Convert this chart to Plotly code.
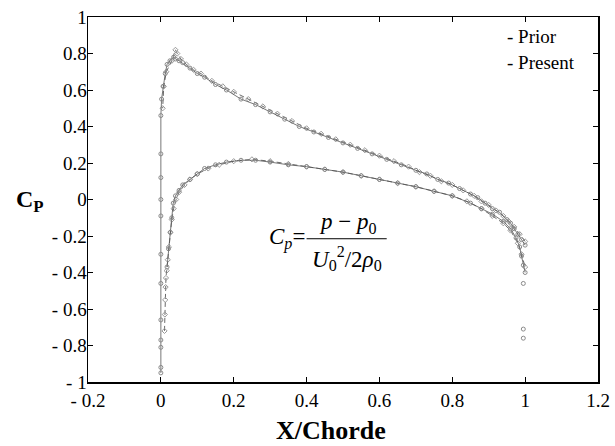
import plotly.graph_objects as go

# ---- data ----
# Present: upper surface (trailing edge -> leading edge), then down the leading edge
present_upper_x = [1.0, 0.99, 0.98, 0.97, 0.96, 0.95, 0.93, 0.91, 0.89, 0.87, 0.85, 0.82, 0.79, 0.76,
                   0.73, 0.70, 0.66, 0.62, 0.58, 0.54, 0.50, 0.46, 0.42, 0.38, 0.34, 0.30, 0.26, 0.22,
                   0.18, 0.15, 0.12, 0.10, 0.08, 0.06, 0.05, 0.04, 0.035,
                   0.025, 0.017, 0.012, 0.006, 0.002, 0.0, 0.0, 0.0, 0.0, 0.0, 0.0, 0.0, 0.0, 0.0,
                   0.0, 0.0, 0.0]
present_upper_cp = [-0.25, -0.22, -0.19, -0.16, -0.13, -0.11, -0.07, -0.05, -0.02, 0.01, 0.03, 0.06, 0.09, 0.11,
                    0.14, 0.16, 0.19, 0.22, 0.25, 0.28, 0.31, 0.34, 0.37, 0.40, 0.44, 0.48, 0.52, 0.55,
                    0.60, 0.63, 0.67, 0.69, 0.72, 0.75, 0.76, 0.77, 0.78,
                    0.76, 0.74, 0.69, 0.62, 0.55, 0.46, 0.25, 0.12, 0.0, -0.09, -0.30, -0.46, -0.66, -0.77,
                    -0.81, -0.92, -0.95]
# Present: lower surface (leading edge -> trailing edge)
present_lower_x = [0.017, 0.021, 0.026, 0.03, 0.034, 0.04, 0.05, 0.06, 0.08, 0.10, 0.12, 0.15, 0.18, 0.22,
                   0.26, 0.30, 0.35, 0.40, 0.45, 0.50, 0.55, 0.60, 0.65, 0.70, 0.75, 0.80, 0.85, 0.88,
                   0.91, 0.94, 0.96, 0.975, 0.985, 0.99, 0.995, 1.0]
present_lower_cp = [-0.37, -0.27, -0.18, -0.10, -0.02, 0.02, 0.05, 0.08, 0.11, 0.14, 0.17, 0.19, 0.205, 0.215,
                    0.215, 0.205, 0.19, 0.18, 0.165, 0.15, 0.13, 0.11, 0.09, 0.07, 0.045, 0.02, -0.02, -0.05,
                    -0.08, -0.12, -0.16, -0.21, -0.26, -0.31, -0.36, -0.40]
# Present: isolated trailing-edge points
present_te_x = [0.995, 0.995, 0.995]
present_te_cp = [-0.46, -0.71, -0.76]

# Prior: upper surface (trailing edge -> leading edge) and down to the nose
prior_upper_x = [1.0, 0.985, 0.97, 0.955, 0.94, 0.92, 0.90, 0.88, 0.86, 0.83, 0.80, 0.77, 0.74, 0.71,
                 0.68, 0.64, 0.60, 0.56, 0.52, 0.48, 0.44, 0.40, 0.36, 0.32, 0.28, 0.24, 0.20, 0.17,
                 0.14, 0.11, 0.09, 0.07, 0.055, 0.045, 0.04, 0.03, 0.015, 0.008, 0.005]
prior_upper_cp = [-0.23, -0.19, -0.15, -0.12, -0.09, -0.06, -0.03, -0.01, 0.02, 0.05, 0.08, 0.10, 0.13, 0.15,
                  0.18, 0.21, 0.24, 0.27, 0.30, 0.33, 0.36, 0.39, 0.43, 0.47, 0.51, 0.55, 0.59, 0.62,
                  0.65, 0.69, 0.71, 0.74, 0.77, 0.80, 0.82, 0.76, 0.70, 0.62, 0.50]
# Prior: lower surface (leading edge -> trailing edge)
prior_lower_x = [0.010, 0.011, 0.012, 0.013, 0.014, 0.016, 0.019, 0.022, 0.026, 0.030, 0.035, 0.042, 0.05,
                 0.065, 0.08, 0.10, 0.13, 0.16, 0.20, 0.25, 0.30, 0.35, 0.40, 0.45, 0.50, 0.55, 0.60,
                 0.65, 0.70, 0.75, 0.80, 0.84, 0.88, 0.91, 0.94, 0.96, 0.98, 0.99, 1.0]
prior_lower_cp = [-0.72, -0.63, -0.55, -0.48, -0.43, -0.39, -0.33, -0.26, -0.18, -0.11, -0.05, 0.0, 0.04,
                  0.08, 0.11, 0.14, 0.17, 0.19, 0.21, 0.22, 0.21, 0.195, 0.18, 0.165, 0.15, 0.13, 0.11,
                  0.09, 0.07, 0.045, 0.02, -0.01, -0.05, -0.09, -0.13, -0.17, -0.24, -0.30, -0.37]

x_tick_vals = [-0.2, 0, 0.2, 0.4, 0.6, 0.8, 1, 1.2]
x_tick_text = ["- 0.2", "0", "0.2", "0.4", "0.6", "0.8", "1", "1.2"]
y_tick_vals = [-1, -0.8, -0.6, -0.4, -0.2, 0, 0.2, 0.4, 0.6, 0.8, 1]
y_tick_text = ["- 1", "- 0.8", "- 0.6", "- 0.4", "- 0.2", "0", "0.2", "0.4", "0.6", "0.8", "1"]

legend_labels = ["- Prior", "- Present"]

SERIF = "Liberation Serif, Times New Roman, serif"

fig = go.Figure()

prior_style = dict(mode="lines+markers",
                   line=dict(color="#444444", width=0.8, dash="5px,3px"),
                   marker=dict(symbol="diamond-open", size=4, color="#999999", line=dict(width=1)),
                   showlegend=False, hoverinfo="skip")
present_style = dict(mode="lines+markers",
                     line=dict(color="#555555", width=0.8),
                     marker=dict(symbol="circle-open", size=4, color="#8a8a8a", line=dict(width=1)),
                     showlegend=False, hoverinfo="skip")

fig.add_trace(go.Scatter(x=prior_upper_x, y=prior_upper_cp, name="Prior", **prior_style))
fig.add_trace(go.Scatter(x=prior_lower_x, y=prior_lower_cp, name="Prior", **prior_style))
fig.add_trace(go.Scatter(x=present_upper_x, y=present_upper_cp, name="Present", **present_style))
fig.add_trace(go.Scatter(x=present_lower_x, y=present_lower_cp, name="Present", **present_style))
fig.add_trace(go.Scatter(x=present_te_x, y=present_te_cp, name="Present", mode="markers",
                         marker=present_style["marker"], showlegend=False, hoverinfo="skip"))

axis_common = dict(showgrid=False, zeroline=False, showline=True, linecolor="black", linewidth=1.5,
                   mirror="ticks", ticks="inside", ticklen=5, tickwidth=1, tickcolor="black",
                   tickfont=dict(family=SERIF, size=19, color="black"), automargin=False)

fig.update_xaxes(range=[-0.2, 1.2], tickvals=x_tick_vals, ticktext=x_tick_text,
                 ticklabelstandoff=1, **axis_common)
fig.update_yaxes(range=[-1, 1], tickvals=y_tick_vals, ticktext=y_tick_text,
                 ticklabelstandoff=-4, **axis_common)

fig.add_annotation(text="<b>X/Chorde</b>", x=0.476, y=-0.132, xref="paper", yref="paper",
                   showarrow=False, font=dict(family=SERIF, size=26, color="black"), yanchor="middle")
fig.add_annotation(text="<b>C<sub>P</sub></b>", x=-0.114, y=0.495, xref="paper", yref="paper",
                   showarrow=False, font=dict(family=SERIF, size=24, color="black"), xanchor="center")
fig.add_annotation(text=legend_labels[0], x=0.946, y=0.893, xref="x", yref="y", xanchor="left",
                   yanchor="middle", showarrow=False, font=dict(family=SERIF, size=19, color="black"))
fig.add_annotation(text=legend_labels[1], x=0.946, y=0.753, xref="x", yref="y", xanchor="left",
                   yanchor="middle", showarrow=False, font=dict(family=SERIF, size=19, color="black"))

# formula C_p = (p - p0) / (U0^2 / 2 rho0)
formula_font = dict(family=SERIF, size=23, color="black")
fig.add_annotation(text="<i>C</i><sub><i>p</i></sub>=", x=0.40, y=-0.215, xref="x", yref="y",
                   xanchor="right", yanchor="middle", showarrow=False, font=formula_font)
fig.add_annotation(text="<i>p</i> − <i>p</i><sub>0</sub>", x=0.515, y=-0.13, xref="x", yref="y",
                   xanchor="center", yanchor="middle", showarrow=False, font=formula_font)
fig.add_annotation(text="<i>U</i><sub>0</sub><sup>2</sup>/2<i>ρ</i><sub>0</sub>", x=0.51, y=-0.325,
                   xref="x", yref="y", xanchor="center", yanchor="middle", showarrow=False, font=formula_font)
fig.add_shape(type="line", x0=0.40, x1=0.62, y0=-0.215, y1=-0.215, xref="x", yref="y",
              line=dict(color="black", width=1))

fig.update_layout(width=615, height=446, autosize=False,
                  margin=dict(l=88, r=17, t=17, b=64),
                  plot_bgcolor="white", paper_bgcolor="white",
                  font=dict(family=SERIF, color="black"), hovermode=False)

fig.write_html("out.html", config={"displayModeBar": False, "staticPlot": True},
               post_script="document.body.style.margin='0px';document.body.style.overflow='hidden';"
                           "document.documentElement.style.overflow='hidden';")
